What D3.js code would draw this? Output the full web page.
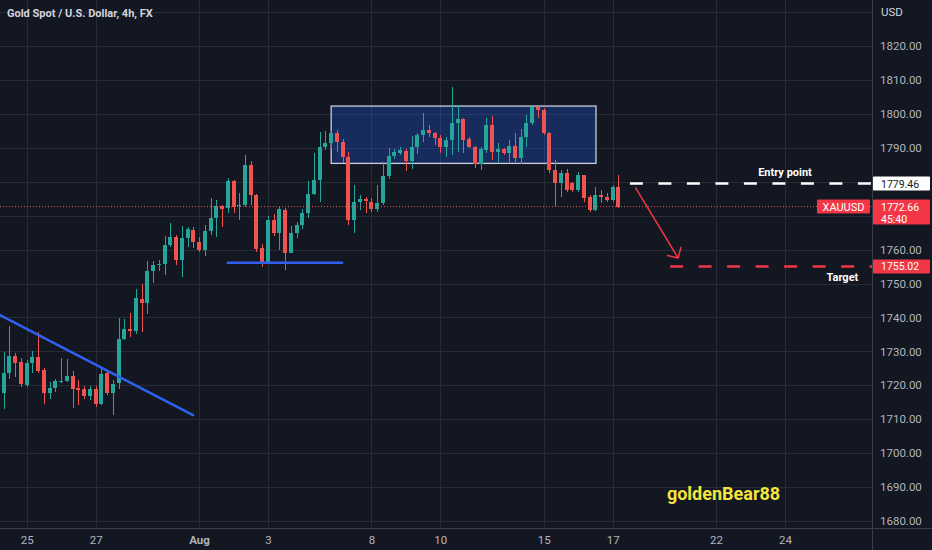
<!DOCTYPE html>
<html><head><meta charset="utf-8">
<script src="https://cdn.jsdelivr.net/npm/d3@7"></script>
<style>
html,body{margin:0;padding:0;background:#131722;}
svg{display:block;}
</style></head><body>
<svg id="chart" width="932" height="550"></svg>
<script>
// ---------- data ----------
const chartTitle = "Gold Spot / U.S. Dollar, 4h, FX";
const currency = "USD";
const symbol = "XAUUSD";
const firstIndex = -4; // candle index of first bar (index 0 = Jul 25 00:00)
const opens = [1717.7,1723.7,1728.6,1727.0,1720.1,1726.5,1728.4,1724.5,1717.8,1719.3,1721.0,1721.3,1722.6,1719.2,1718.8,1716.8,1718.8,1714.5,1723.5,1717.8,
1720.6,1733.7,1736.5,1736.0,1745.4,1744.3,1753.8,1755.4,1755.7,1761.3,1763.6,1756.9,1763.3,1765.8,1762.3,1759.9,1765.5,1769.2,1772.8,1772.2,
1780.3,1772.7,1773.1,1784.9,1776.1,1760.4,1756.4,1768.7,1764.8,1771.7,1759.1,1765.0,1767.2,1770.9,1776.4,1780.5,1790.3,1791.3,1794.3,1791.8,
1787.4,1768.7,1774.1,1774.8,1774.1,1771.9,1773.8,1781.7,1787.6,1788.6,1789.0,1786.1,1790.1,1793.8,1795.2,1794.3,1792.8,1790.1,1792.3,1797.4,
1798.4,1792.5,1790.3,1785.2,1789.3,1796.7,1788.8,1789.6,1788.4,1790.5,1786.9,1793.3,1797.2,1802.1,1801.1,1794.3,1783.5,1779.7,1782.7,1779.5,
1777.6,1782.0,1775.4,1771.7,1776.1,1775.6,1774.6,1778.5];
const highs = [1729.8,1737.5,1729.5,1728.0,1727.5,1730.1,1735.8,1725.0,1721.1,1722.0,1728.1,1727.8,1724.2,1721.6,1719.8,1719.8,1719.8,1725.0,1724.0,1721.6,
1739.7,1739.5,1741.4,1748.3,1749.8,1756.6,1756.7,1756.8,1764.1,1767.7,1764.3,1767.0,1766.6,1766.6,1763.8,1767.2,1775.1,1774.6,1773.2,1781.0,
1780.5,1776.6,1787.9,1786.0,1776.3,1761.6,1769.9,1770.5,1772.6,1772.2,1767.0,1768.2,1771.9,1780.3,1788.4,1794.7,1794.9,1795.0,1795.2,1792.5,
1788.8,1779.0,1776.1,1775.6,1775.2,1779.0,1785.9,1789.8,1789.6,1790.3,1789.6,1793.5,1794.4,1800.3,1796.7,1794.8,1793.8,1793.3,1808.0,1802.6,
1798.7,1793.3,1790.5,1790.1,1798.7,1799.4,1791.5,1789.9,1792.3,1794.3,1795.4,1799.7,1802.3,1802.3,1801.6,1794.7,1786.4,1783.5,1783.7,1780.0,
1783.0,1782.0,1776.1,1778.4,1777.6,1776.6,1779.0,1782.0];
const lows = [1713.0,1722.0,1722.5,1719.5,1719.6,1723.5,1723.6,1714.4,1715.9,1718.0,1720.7,1721.0,1713.2,1714.2,1716.0,1715.7,1713.5,1714.2,1717.0,1711.2,
1719.0,1733.3,1734.1,1735.0,1735.8,1741.0,1750.2,1753.8,1752.5,1760.8,1755.5,1752.0,1760.7,1760.4,1759.4,1758.1,1764.3,1763.8,1766.6,1770.7,
1770.7,1768.7,1772.6,1773.1,1759.4,1755.0,1756.1,1764.0,1759.9,1754.0,1758.9,1763.3,1766.0,1769.2,1776.1,1774.1,1789.3,1789.6,1788.8,1785.6,
1767.2,1764.8,1771.7,1770.7,1771.2,1771.2,1773.1,1780.7,1786.6,1788.0,1783.2,1783.7,1788.2,1791.8,1793.3,1790.8,1788.4,1787.4,1787.9,1788.8,
1788.4,1789.9,1784.0,1783.5,1788.4,1786.4,1785.9,1787.9,1785.9,1785.9,1785.2,1790.3,1796.7,1798.7,1793.8,1782.5,1772.6,1775.6,1777.1,1777.1,
1777.1,1774.1,1771.2,1771.5,1773.6,1774.1,1774.1,1772.2];
const closes = [1723.6,1728.6,1726.5,1720.3,1726.5,1728.4,1724.3,1717.8,1719.3,1721.3,1721.3,1722.6,1718.8,1718.6,1716.8,1718.8,1714.5,1723.3,1717.8,1720.4,
1733.6,1736.5,1736.1,1745.6,1744.3,1753.7,1755.5,1755.8,1761.4,1763.6,1756.9,1763.4,1766.0,1762.3,1759.9,1765.5,1769.2,1772.8,1772.1,1780.3,
1772.6,1773.1,1784.9,1776.1,1760.1,1756.4,1768.7,1764.8,1771.9,1759.1,1765.0,1767.2,1770.9,1776.4,1780.5,1790.3,1791.3,1794.3,1791.8,1787.4,
1768.7,1774.1,1774.8,1774.4,1771.9,1773.8,1781.7,1787.6,1788.8,1789.3,1786.1,1790.1,1793.8,1795.2,1794.3,1792.8,1790.3,1792.3,1797.4,1798.4,
1792.3,1790.3,1785.2,1789.6,1796.7,1788.8,1789.6,1788.4,1790.5,1786.9,1793.3,1797.2,1802.1,1801.1,1794.3,1783.5,1779.7,1782.7,1777.6,1777.6,
1782.0,1775.1,1771.7,1776.1,1775.4,1774.6,1778.5,1772.66];

const dateTickIndex = [0, 12, 30, 42, 60, 72, 90, 102, 120, 132];
const dateTickLabels = ["25", "27", "Aug", "3", "8", "10", "15", "17", "22", "24"];
const priceGrid = [1680,1690,1700,1710,1720,1730,1740,1750,1760,1770,1780,1790,1800,1810,1820,1830];
// 1770 and 1780 labels are covered by the price tags in the original
const priceLabels = [1680,1690,1700,1710,1720,1730,1740,1750,1760,1790,1800,1810,1820];
const lastPrice = 1772.66;
const countdown = "45:40";
const entryPrice = 1779.46;
const entryStartIdx = 105;
const entryLabel = "Entry point";
const entryLabelIdx = 132;
const targetPrice = 1755.02;
const targetStartIdx = 112;
const targetLabel = "Target";
const targetLabelIdx = 142;
const boxIdx = [53, 99.1];
const boxPrice = [1802.3, 1785.4];
const trendIdx = [-4.65, 28.95];
const trendPrice = [1740.7, 1711.2];
const supportIdx = [35, 54.9];
const supportPrice = [1756.1, 1756.1];
const arrowIdx = [106, 113.4];
const arrowPrice = [1778.2, 1757.5];
const watermark = "goldenBear88";
const watermarkIdx = 121.3;
const watermarkPrice = 1686.3;

// ---------- layout ----------
const W = 932, H = 550, plotR = 872, plotB = 528;
const upC = "#26a69a", dnC = "#ef5350", redTag = "#f23645";
const font = "Roboto, 'Noto Sans', sans-serif";

const svg = d3.select("#chart");
const x = d3.scaleLinear().domain([0, 132]).range([26.7, 785]);
const y = d3.scaleLinear().domain([1680, 1820]).range([521, 46]);

svg.append("rect").attr("width", W).attr("height", H).attr("fill", "#131722");
svg.append("defs").append("clipPath").attr("id", "plot")
  .append("rect").attr("x", 0).attr("y", 0).attr("width", plotR).attr("height", plotB);

const plot = svg.append("g").attr("clip-path", "url(#plot)");

// grid
plot.append("g").selectAll("line").data(priceGrid).join("line")
  .attr("x1", 0).attr("x2", plotR)
  .attr("y1", d => Math.round(y(d)) + 0.5).attr("y2", d => Math.round(y(d)) + 0.5)
  .attr("stroke", "#272b36").attr("stroke-width", 1);
plot.append("g").selectAll("line").data(dateTickIndex).join("line")
  .attr("y1", 0).attr("y2", plotB)
  .attr("x1", d => Math.round(x(d)) + 0.5).attr("x2", d => Math.round(x(d)) + 0.5)
  .attr("stroke", "#272b36").attr("stroke-width", 1);

// range box
plot.append("rect")
  .attr("x", x(boxIdx[0])).attr("y", y(boxPrice[0]))
  .attr("width", x(boxIdx[1]) - x(boxIdx[0]))
  .attr("height", y(boxPrice[1]) - y(boxPrice[0]))
  .attr("fill", "rgba(41,98,255,0.27)")
  .attr("stroke", "#c9cede").attr("stroke-width", 1.3);

// candles
const candles = opens.map((o, k) => ({i: firstIndex + k, o, h: highs[k], l: lows[k], c: closes[k]}));
const cg = plot.append("g").attr("shape-rendering", "crispEdges");
candles.forEach(d => {
  const col = d.c >= d.o ? upC : dnC;
  const bx = Math.round(x(d.i) - 2);
  cg.append("rect").attr("x", bx + 1.5).attr("width", 1)
    .attr("y", y(d.h)).attr("height", Math.max(1, y(d.l) - y(d.h))).attr("fill", col);
  const top = y(Math.max(d.o, d.c)), bot = y(Math.min(d.o, d.c));
  cg.append("rect").attr("x", bx).attr("width", 4)
    .attr("y", top).attr("height", Math.max(1, bot - top)).attr("fill", col);
});

// last price dotted line
plot.append("line").attr("x1", 0).attr("x2", plotR)
  .attr("y1", y(lastPrice)).attr("y2", y(lastPrice))
  .attr("stroke", dnC).attr("stroke-width", 1).attr("stroke-dasharray", "1,2");

// trend lines
plot.append("line")
  .attr("x1", x(trendIdx[0])).attr("y1", y(trendPrice[0]))
  .attr("x2", x(trendIdx[1])).attr("y2", y(trendPrice[1]))
  .attr("stroke", "#3060f0").attr("stroke-width", 2.6).attr("stroke-linecap", "round");
plot.append("line")
  .attr("x1", x(supportIdx[0])).attr("y1", y(supportPrice[0]))
  .attr("x2", x(supportIdx[1])).attr("y2", y(supportPrice[1]))
  .attr("stroke", "#3060f0").attr("stroke-width", 2.6).attr("stroke-linecap", "round");

// entry / target lines
plot.append("line").attr("x1", x(entryStartIdx)).attr("x2", plotR)
  .attr("y1", y(entryPrice)).attr("y2", y(entryPrice))
  .attr("stroke", "#ffffff").attr("stroke-width", 2.6).attr("stroke-dasharray", "13,15.5");
plot.append("line").attr("x1", x(targetStartIdx)).attr("x2", plotR)
  .attr("y1", y(targetPrice)).attr("y2", y(targetPrice))
  .attr("stroke", redTag).attr("stroke-width", 2.6).attr("stroke-dasharray", "13,15.5");

plot.append("text").attr("x", x(entryLabelIdx)).attr("y", y(entryPrice) - 7.5)
  .attr("text-anchor", "middle").attr("fill", "#ffffff")
  .attr("font-family", font).attr("font-weight", 700).attr("font-size", 11)
  .text(entryLabel);
plot.append("text").attr("x", x(targetLabelIdx)).attr("y", y(targetPrice) + 15)
  .attr("text-anchor", "middle").attr("fill", "#ffffff")
  .attr("font-family", font).attr("font-weight", 700).attr("font-size", 11)
  .text(targetLabel);

// arrow
{
  const x1 = x(arrowIdx[0]), y1 = y(arrowPrice[0]), x2 = x(arrowIdx[1]), y2 = y(arrowPrice[1]);
  const ang = Math.atan2(y2 - y1, x2 - x1) + Math.PI;
  const L = 11, sp = 0.8;
  const a1 = [x2 + L * Math.cos(ang - sp), y2 + L * Math.sin(ang - sp)];
  const a2 = [x2 + L * Math.cos(ang + sp), y2 + L * Math.sin(ang + sp)];
  plot.append("path")
    .attr("d", `M${x1},${y1}L${x2},${y2}M${a1[0]},${a1[1]}L${x2},${y2}L${a2[0]},${a2[1]}`)
    .attr("fill", "none").attr("stroke", redTag).attr("stroke-width", 1.5)
    .attr("stroke-linecap", "round").attr("stroke-linejoin", "round");
}

// watermark
plot.append("text").attr("x", x(watermarkIdx)).attr("y", y(watermarkPrice))
  .attr("text-anchor", "middle").attr("fill", "#f4e53c")
  .attr("font-family", font).attr("font-weight", 700).attr("font-size", 18)
  .text(watermark);

// title
svg.append("text").attr("x", 7).attr("y", 17)
  .attr("fill", "#d1d4dc").attr("font-family", font).attr("font-weight", 700).attr("font-size", 11)
  .text(chartTitle);

// borders
svg.append("line").attr("x1", plotR + 0.5).attr("x2", plotR + 0.5).attr("y1", 0).attr("y2", H)
  .attr("stroke", "#3a3e4a").attr("stroke-width", 1);
svg.append("line").attr("x1", 0).attr("x2", W).attr("y1", plotB + 0.5).attr("y2", plotB + 0.5)
  .attr("stroke", "#3a3e4a").attr("stroke-width", 1);

// y axis
const yAxis = d3.axisRight(y).tickValues(priceLabels).tickFormat(d3.format(".2f")).tickSize(0).tickPadding(8);
const yg = svg.append("g").attr("transform", `translate(${plotR},0)`).call(yAxis);
yg.select(".domain").remove();
yg.selectAll("text").attr("fill", "#b2b5be").attr("font-family", font).attr("font-size", 11.5);

svg.append("text").attr("x", plotR + 9).attr("y", 16).attr("fill", "#d1d4dc")
  .attr("font-family", font).attr("font-size", 11.5).text(currency);

// x axis
const xAxis = d3.axisBottom(x).tickValues(dateTickIndex)
  .tickFormat((d, k) => dateTickLabels[k]).tickSize(0).tickPadding(8);
const xg = svg.append("g").attr("transform", `translate(0,${plotB})`).call(xAxis);
xg.select(".domain").remove();
xg.selectAll("text").attr("fill", "#b2b5be").attr("font-family", font).attr("font-size", 11.5)
  .attr("font-weight", (d, k) => dateTickLabels[k] === "Aug" ? 700 : 400);

// price tags
function tag(price, fill, txtCol, lines, h) {
  const yy = y(price);
  const g = svg.append("g");
  g.append("rect").attr("x", plotR + 1).attr("y", yy - 7).attr("width", W - plotR - 3).attr("height", h)
    .attr("fill", fill).attr("rx", 1);
  lines.forEach((t, k) => {
    g.append("text").attr("x", plotR + 9).attr("y", yy + 4 + k * 12)
      .attr("fill", txtCol).attr("font-family", font).attr("font-size", 10.5).text(t);
  });
}
tag(entryPrice, "#ffffff", "#131722", [entryPrice.toFixed(2)], 14);
tag(lastPrice, redTag, "#ffffff", [lastPrice.toFixed(2), countdown], 25);
tag(targetPrice, redTag, "#ffffff", [targetPrice.toFixed(2)], 14);

// symbol tag
{
  const yy = y(lastPrice);
  svg.append("rect").attr("x", 817).attr("y", yy - 7).attr("width", 53).attr("height", 14)
    .attr("fill", redTag).attr("rx", 1);
  svg.append("text").attr("x", 843.5).attr("y", yy + 4).attr("text-anchor", "middle")
    .attr("fill", "#ffffff").attr("font-family", font).attr("font-size", 11).text(symbol);
}
</script>
</body></html>
